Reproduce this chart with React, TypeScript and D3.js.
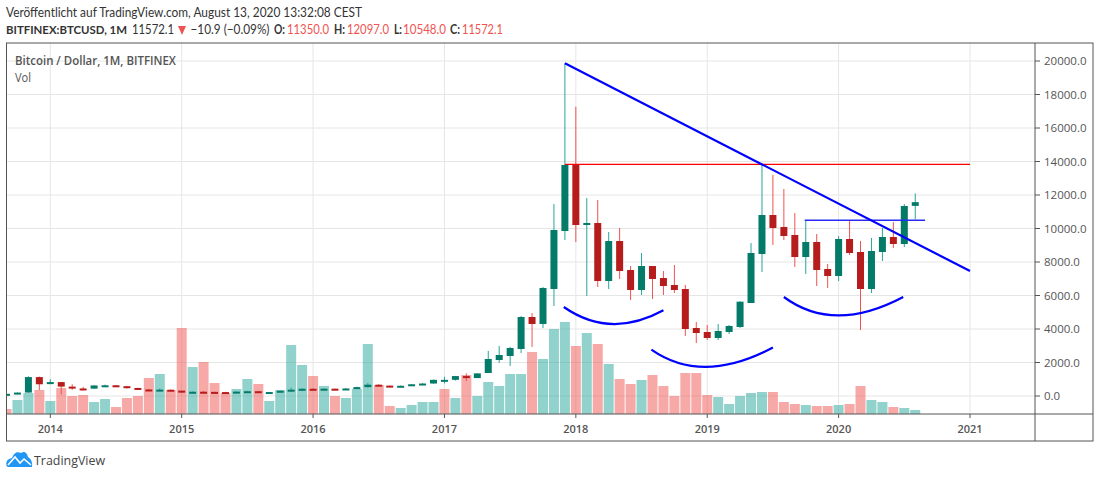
import React from "react";
import * as d3 from "d3";

// Month offset from Jan 2014; the first bar is Sep 2013
const firstMonth = -4;
const opens = [125,130,205,1130,735,830,560,450,440,630,640,585,480,390,340,375,320,220,255,245,235,230,263,285,230,236,314,377,430,370,436,415,449,530,675,620,575,610,700,745,965,965,1190,1070,1373,2149,2388,2806,4716,4298,6388,9850,13790,10209,10328,6865,9253,7522,6328,7760,7045,6627,6388,4060,3821,3463,3821,4119,5552,8477,10806,10089,9612,8298,9194,7582,7164,9373,8597,6388,8597,9492,9074,11350];
const closes = [130,205,1130,700,830,560,450,440,630,640,585,480,390,340,380,320,220,255,245,235,230,263,285,230,236,314,377,430,370,436,415,449,530,675,620,575,610,700,745,965,965,1190,1070,1350,2210,2447,2866,4716,4298,6448,9910,13790,10209,10328,6865,9253,7462,6328,7760,6985,6567,6328,4000,3761,3463,3880,4179,5630,8537,10806,10030,9552,8298,9194,7522,7164,9373,8537,6388,8656,9492,9074,11343,11572.1];
const highs = [135,215,1175,1160,1000,840,700,545,640,680,660,600,490,415,450,385,320,265,300,260,245,268,315,285,245,330,500,465,460,448,440,470,560,775,700,625,630,700,760,980,1150,1200,1350,1350,2690,2985,2930,4776,4955,6507,11462,19860,17271,11820,11701,9790,10030,7760,8537,7760,7462,7820,6627,4418,4239,4298,4239,5660,9134,13850,13194,12358,10925,10507,9671,7880,9552,10507,9253,9433,10030,10387,11462,12097];
const lows = [120,100,200,350,700,100,370,340,420,530,570,450,360,280,310,310,170,210,230,215,225,220,260,200,225,235,305,350,355,360,390,410,435,505,600,530,565,605,690,735,750,920,890,1070,1373,1970,1790,2567,2925,4060,5373,9313,9194,5970,6507,6388,6985,5731,6030,5790,6030,6149,3582,3164,3343,3343,3701,4060,5552,7403,9015,9313,7701,7283,6567,6448,6865,8418,3940,6149,8060,8836,8895,10548];
const volumes = [5,14,21,24,13,26,18,19,12,15,7,16,18,36,40,24,86,47,52,31,21,25,35,30,13,24,69,49,38,28,18,16,25,70,29,8,6,9,12,12,25,16,39,18,32,28,40,40,62,55,85,92,68,81,70,50,35,30,34,39,28,18,41,41,19,17,10,18,21,22,22,12,10,9,8,8,9,10,28,14,12,7,6,4];
const volumeSides = [
  "R","G","G","R","G","R","R","R","G","G","R","R","R","R","G","R","R","G","R","R","R","G","G","R","G","G","G","G",
  "R","G","R","G","G","G","R","R","G","G","G","G","R","G","R","G","G","G","G","G","R","G","G","G","R","G","R","G",
  "R","R","G","R","R","R","R","R","R","G","G","G","G","G","R","R","R","G","R","R","G","R","R","G","G","R","G","G",
];
// Tick positions are months from Jan 2014
const yearTicks = [0, 12, 24, 36, 48, 60, 72, 84];
const yearLabels = ["2014", "2015", "2016", "2017", "2018", "2019", "2020", "2021"];
const priceTicks = [0, 2000, 4000, 6000, 8000, 10000, 12000, 14000, 16000, 18000, 20000];
// Drawings, as [month, price]
const resistance = [[47, 13830], [84, 13830]];
const trendLine = [[47, 19860], [84, 7462]];
const neckLine = [[68.9, 10490], [79.9, 10490]];
const arcs = [
  [[46.9, 5313], [51.3, 4298], [56, 5116]],
  [[54.9, 2770], [60, 1740], [66, 2890]],
  [[67, 5910], [72, 4810], [77.9, 5910]],
];
const headerRow = [
  { t: "11572.1", x: 132, w: 42, c: "#333" },
  { t: "−10.9 (−0.09%)", x: 190.5, w: 79, c: "#333" },
  { t: "O:", x: 274, w: 11, c: "#333", b: true },
  { t: "11350.0", x: 287, w: 42, c: "#ef5350" },
  { t: "H:", x: 334, w: 11, c: "#333", b: true },
  { t: "12097.0", x: 347, w: 42, c: "#ef5350" },
  { t: "L:", x: 394, w: 8, c: "#333", b: true },
  { t: "10548.0", x: 403, w: 43, c: "#ef5350" },
  { t: "C:", x: 450, w: 10, c: "#333", b: true },
  { t: "11572.1", x: 462, w: 41, c: "#ef5350" },
];

const W = 1100, H = 478;
const left = 6.5, top = 43, axisY = 414, priceX = 1035, outerX = 1093, bottom = 441;
const font = "'Open Sans', sans-serif";
const headFont = "Lato, sans-serif";
const BORDER = "#555", GRID = "#e6e6e6", TEXT = "#555";
const UP_BODY = "#047a68", UP_WICK = "#26a69a", DOWN_BODY = "#b71c1c", DOWN_WICK = "#ef5350";

export default function App() {
  const x = d3.scaleLinear().domain([0, 84]).range([50.3, 970]);
  const y = d3.scaleLinear().domain([0, 20000]).range([396, 61]);
  const vol = d3.scaleLinear().domain([0, 100]).range([axisY, axisY - 100]);
  const straight = d3.line<number[]>().x(d => x(d[0])).y(d => y(d[1]));
  const arcPath = (a: number[][]) => {
    const [s, m, e] = a;
    const p = d3.path();
    p.moveTo(x(s[0]), y(s[1]));
    p.quadraticCurveTo(
      2 * x(m[0]) - (x(s[0]) + x(e[0])) / 2,
      2 * y(m[1]) - (y(s[1]) + y(e[1])) / 2,
      x(e[0]), y(e[1]));
    return p.toString();
  };
  const fit = { lengthAdjust: "spacingAndGlyphs" as const };
  return (
    <svg width={W} height={H} viewBox={`0 0 ${W} ${H}`}
      style={{ position: "absolute", left: 0, top: 0, background: "#fff", fontFamily: font }}>
      <defs>
        <clipPath id="plot"><rect x={left} y={top} width={priceX - left} height={axisY - top} /></clipPath>
      </defs>
      <text x={6} y={17} fontSize={13} fontFamily={headFont} fill="#333" textLength={356} {...fit}>Veröffentlicht auf TradingView.com, August 13, 2020 13:32:08 CEST</text>
      <text x={6} y={34} fontSize={11.8} fontFamily={headFont} fontWeight={700} fill="#333" textLength={121} {...fit}>BITFINEX:BTCUSD, 1M</text>
      {headerRow.map((h, i) => (
        <text key={i} x={h.x} y={34} fontSize={12.5} fontFamily={headFont} fontWeight={h.b ? 700 : 400} fill={h.c} textLength={h.w} {...fit}>{h.t}</text>
      ))}
      <polygon points="178,26 186,26 182,35" fill="#ef5350" />

      {/* grid */}
      {priceTicks.map(t => <line key={t} x1={left} x2={priceX} y1={y(t)} y2={y(t)} stroke={GRID} strokeWidth={1} />)}
      {yearTicks.map(t => <line key={t} x1={x(t)} x2={x(t)} y1={top} y2={axisY} stroke={GRID} strokeWidth={1} />)}

      <g clipPath="url(#plot)">
        {volumes.map((v, i) => {
          const cx = x(firstMonth + i);
          return <rect key={i} x={cx - 5} width={10} y={vol(v)} height={axisY - vol(v)}
            fill={volumeSides[i] === "G" ? "#26a69a" : "#ef5350"} fillOpacity={0.5} />;
        })}
        {opens.map((o, i) => {
          const c = closes[i], up = c >= o, cx = x(firstMonth + i);
          const yt = y(Math.max(o, c)), yb = y(Math.min(o, c));
          const hh = Math.max(yb - yt, 2);
          return (
            <g key={i}>
              <line x1={cx} x2={cx} y1={y(highs[i])} y2={y(lows[i])} stroke={up ? UP_WICK : DOWN_WICK} strokeWidth={1} />
              <rect x={cx - 3.5} width={7} y={yt} height={hh} fill={up ? UP_BODY : DOWN_BODY} />
            </g>
          );
        })}
        <path d={straight(resistance)!} stroke="#ff0000" strokeWidth={1.3} fill="none" />
        <path d={straight(neckLine)!} stroke="#2a2af5" strokeWidth={1.4} fill="none" />
        <path d={straight(trendLine)!} stroke="#0000ff" strokeWidth={2.2} fill="none" />
        {arcs.map((a, i) => <path key={i} d={arcPath(a)} stroke="#0000ff" strokeWidth={2.2} fill="none" />)}
      </g>

      <text x={15} y={65} fontSize={12.5} fontWeight={600} fill={TEXT} textLength={161} {...fit}>Bitcoin / Dollar, 1M, BITFINEX</text>
      <text x={15} y={82} fontSize={12.5} fill={TEXT} textLength={16} {...fit}>Vol</text>

      {/* frame */}
      <rect x={left} y={top} width={outerX - left} height={bottom - top} fill="none" stroke={BORDER} strokeWidth={1} />
      <line x1={left} x2={outerX} y1={axisY} y2={axisY} stroke={BORDER} strokeWidth={1} />
      <line x1={priceX} x2={priceX} y1={top} y2={bottom} stroke={BORDER} strokeWidth={1} />

      {yearTicks.map((t, i) => (
        <g key={t}>
          <line x1={x(t)} x2={x(t)} y1={axisY} y2={axisY + 4} stroke={BORDER} />
          <text x={x(t)} y={433} textAnchor="middle" fontSize={11} fontWeight={600} fill={TEXT}>{yearLabels[i]}</text>
        </g>
      ))}
      {priceTicks.map(t => (
        <g key={t}>
          <line x1={priceX} x2={priceX + 5} y1={y(t)} y2={y(t)} stroke={BORDER} />
          <text x={1044} y={y(t) + 4.3} fontSize={11.5} fill={TEXT}>{d3.format(".1f")(t)}</text>
        </g>
      ))}

      {/* logo */}
      <path d="M6.5 466 Q5 459 12 458 Q15 450 21 453 Q26 450 28 457 Q33 460 32 467 L8 467 Z" fill="#2196f3" />
      <path d="M8 465 L15 457 L20 463 L24 459 L31 465" fill="none" stroke="#fff" strokeWidth={1.6} />
      <text x={34} y={464.5} fontSize={13} fill="#444" textLength={71} {...fit}>TradingView</text>
    </svg>
  );
}
